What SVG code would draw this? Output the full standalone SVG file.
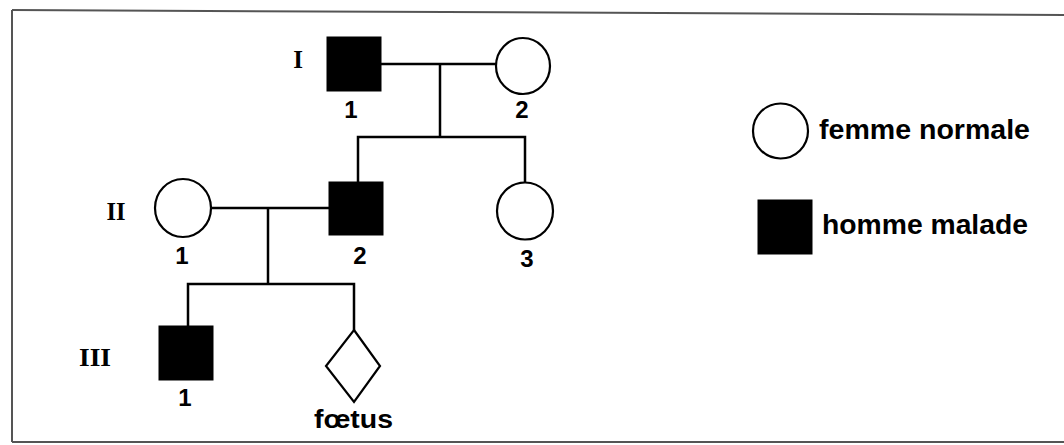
<svg xmlns="http://www.w3.org/2000/svg" width="1064" height="445" viewBox="0 0 1064 445">
  <style>
    .frame { fill: none; stroke: #555; stroke-width: 2; }
    .line { fill: none; stroke: #000; stroke-width: 2.5; }
    .aff { fill: #000; stroke: #000; stroke-width: 1; }
    .norm { fill: #fff; stroke: #000; stroke-width: 2.2; }
    .num { font-family: "Liberation Sans", Arial, sans-serif; font-weight: bold; font-size: 24px; fill: #000; text-anchor: middle; }
    .gen { font-family: "Liberation Serif", "Times New Roman", serif; font-weight: bold; font-size: 25px; fill: #000; text-anchor: middle; }
    .leg { font-family: "Liberation Sans", Arial, sans-serif; font-weight: bold; font-size: 28px; fill: #000; }
    .lbl { font-family: "Liberation Sans", Arial, sans-serif; font-weight: bold; font-size: 25px; fill: #000; }
  </style>
  <rect x="0" y="0" width="1064" height="445" fill="#fff"/>
  <g id="frame">
    <line class="frame" x1="12" y1="10" x2="1064" y2="15"/>
    <line class="frame" x1="12" y1="10" x2="12" y2="442"/>
    <line class="frame" x1="12" y1="442" x2="1064" y2="442"/>
  </g>
  <g id="generations">
    <text class="gen" x="298" y="68">I</text>
    <text class="gen" x="116" y="220" textLength="19" lengthAdjust="spacingAndGlyphs">II</text>
    <text class="gen" x="95" y="366" textLength="32" lengthAdjust="spacingAndGlyphs">III</text>
  </g>
  <g id="connectors">
    <polyline class="line" points="381,64 496,64"/>
    <polyline class="line" points="440,64 440,137"/>
    <polyline class="line" points="358,182 358,137 525,137 525,183"/>
    <polyline class="line" points="211,208 329,208"/>
    <polyline class="line" points="268,208 268,284"/>
    <polyline class="line" points="188,326 188,284 354,284 354,330"/>
  </g>
  <g id="I-1">
    <rect class="aff" x="327" y="37" width="54" height="54"/>
    <text class="num" x="351" y="118">1</text>
  </g>
  <g id="I-2">
    <ellipse class="norm" cx="523" cy="66" rx="27" ry="28"/>
    <text class="num" x="522" y="118">2</text>
  </g>
  <g id="II-1">
    <ellipse class="norm" cx="183" cy="208" rx="28" ry="29"/>
    <text class="num" x="182" y="264">1</text>
  </g>
  <g id="II-2">
    <rect class="aff" x="329" y="182" width="54" height="53"/>
    <text class="num" x="360" y="264">2</text>
  </g>
  <g id="II-3">
    <ellipse class="norm" cx="525" cy="211" rx="28" ry="28.5"/>
    <text class="num" x="527" y="267">3</text>
  </g>
  <g id="III-1">
    <rect class="aff" x="159" y="326" width="54" height="54"/>
    <text class="num" x="185" y="406">1</text>
  </g>
  <g id="fetus">
    <polygon class="norm" points="354,330 380,366 354,402 326,366"/>
    <text class="lbl" x="314" y="428" textLength="79" lengthAdjust="spacingAndGlyphs">fœtus</text>
  </g>
  <g id="legend-femme">
    <ellipse class="norm" cx="780.5" cy="131" rx="27.5" ry="27.5"/>
    <text class="leg" x="819" y="139" textLength="211" lengthAdjust="spacingAndGlyphs">femme normale</text>
  </g>
  <g id="legend-homme">
    <rect class="aff" x="758" y="200" width="54" height="54"/>
    <text class="leg" x="822" y="234" textLength="206" lengthAdjust="spacingAndGlyphs">homme malade</text>
  </g>
</svg>
